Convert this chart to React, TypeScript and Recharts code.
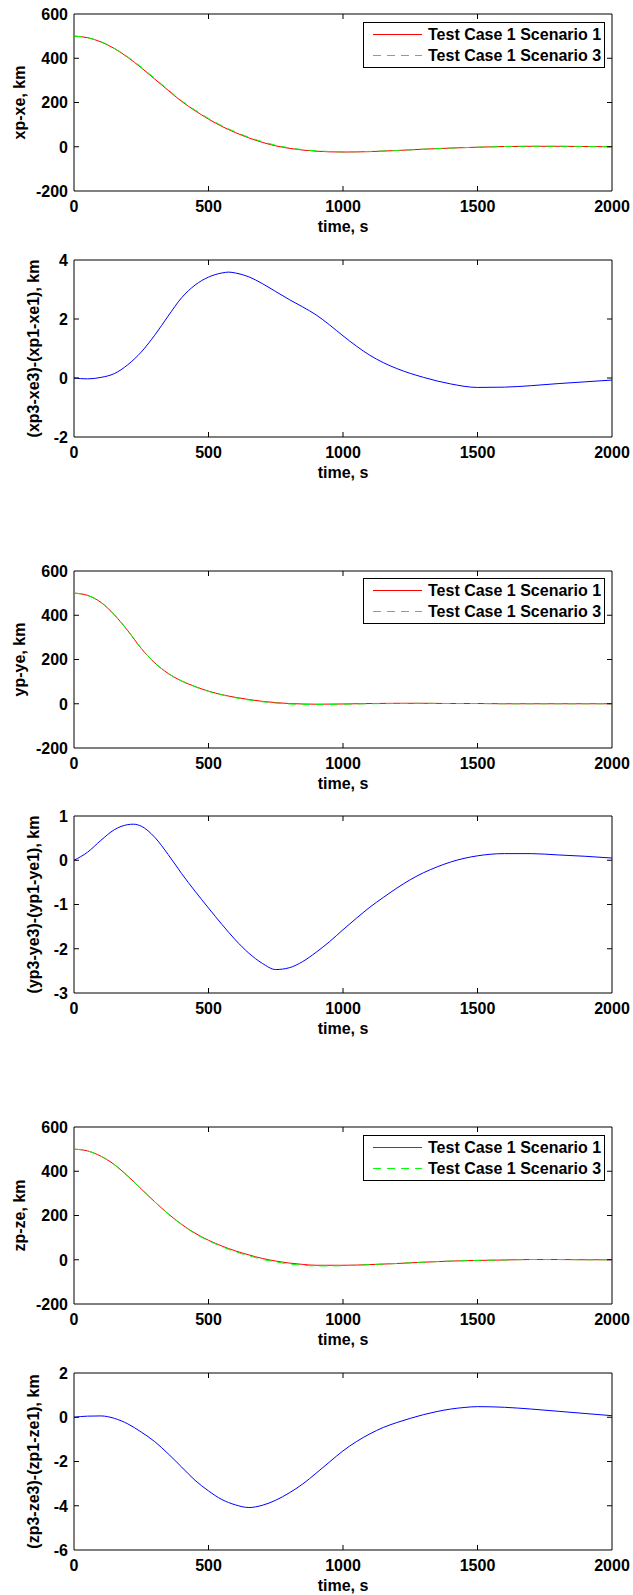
import React from 'react';
import { LineChart, Line, XAxis, YAxis, ReferenceArea } from 'recharts';

// ---------- data ----------
const timeTicks = [0, 500, 1000, 1500, 2000];

// Panel 1: xp-xe
const t1 = [0, 50, 100, 150, 200, 250, 300, 350, 400, 450, 500, 550, 600, 650, 700, 750, 800, 850, 900, 1000, 1100, 1200, 1300, 1400, 1500, 1600, 1700, 1800, 1900, 2000];
const xS1 = [500, 493, 474, 444, 404, 357, 306, 255, 205, 163, 125, 92, 64, 40, 20, 4, -7, -15, -20, -24, -22, -17, -11, -6, -2, 1, 2, 2, 1, 0];
const xS3 = [500, 493, 475, 445, 406, 360, 309, 258, 208, 166, 128, 95, 67, 43, 23, 7, -5, -13, -18, -23, -21, -17, -11, -6, -2, 1, 2, 2, 1, 0];
const xTicks = [-200, 0, 200, 400, 600];

// Panel 2: (xp3-xe3)-(xp1-xe1)
const t2 = [0, 50, 100, 150, 200, 250, 300, 350, 400, 450, 500, 550, 575, 600, 650, 700, 750, 800, 850, 900, 950, 1000, 1050, 1100, 1150, 1200, 1300, 1400, 1500, 1600, 1700, 1800, 1900, 2000];
const dX = [0, -0.03, 0.02, 0.15, 0.45, 0.88, 1.45, 2.1, 2.72, 3.15, 3.42, 3.56, 3.59, 3.56, 3.43, 3.2, 2.93, 2.66, 2.41, 2.14, 1.8, 1.43, 1.08, 0.77, 0.52, 0.32, 0.02, -0.2, -0.32, -0.31, -0.26, -0.19, -0.13, -0.07];
const dXTicks = [-2, 0, 2, 4];

// Panel 3: yp-ye
const t3 = [0, 50, 100, 150, 200, 250, 300, 350, 400, 450, 500, 550, 600, 650, 700, 750, 800, 850, 900, 1000, 1100, 1200, 1300, 1400, 1500, 1600, 1800, 2000];
const yS1 = [500, 490, 458, 402, 330, 250, 185, 137, 103, 78, 57, 41, 29, 19, 11, 5, 1, -1, -2, -1, 1, 2, 2, 1, 1, 0, 0, 0];
const yS3 = [500, 490, 459, 403, 331, 251, 185, 137, 103, 77, 56, 40, 27, 17, 9, 3, -1, -3, -4, -2, 0, 1, 2, 1, 1, 0, 0, 0];
const yTicks = [-200, 0, 200, 400, 600];

// Panel 4: (yp3-ye3)-(yp1-ye1)
const t4 = [0, 50, 100, 150, 200, 220, 250, 300, 350, 400, 450, 500, 550, 600, 650, 700, 750, 800, 850, 900, 950, 1000, 1050, 1100, 1150, 1200, 1250, 1300, 1350, 1400, 1500, 1600, 1700, 1800, 1900, 2000];
const dY = [0, 0.18, 0.45, 0.69, 0.805, 0.815, 0.77, 0.52, 0.13, -0.3, -0.7, -1.08, -1.45, -1.8, -2.1, -2.33, -2.47, -2.43, -2.29, -2.08, -1.84, -1.57, -1.31, -1.06, -0.84, -0.63, -0.44, -0.28, -0.15, -0.04, 0.1, 0.15, 0.15, 0.12, 0.09, 0.05];
const dYTicks = [-3, -2, -1, 0, 1];

// Panel 5: zp-ze
const t5 = [0, 50, 100, 150, 200, 250, 300, 350, 400, 450, 500, 550, 600, 650, 700, 750, 800, 850, 900, 1000, 1100, 1200, 1300, 1400, 1500, 1600, 1700, 1800, 1900, 2000];
const zS1 = [500, 492, 468, 430, 378, 320, 262, 208, 160, 120, 88, 62, 40, 22, 6, -6, -15, -21, -25, -25, -22, -17, -11, -6, -3, -1, 1, 1, 0, 0];
const zS3 = [500, 492, 468, 430, 378, 320, 262, 207, 159, 118, 86, 59, 36, 18, 2, -10, -19, -25, -28, -27, -22, -17, -11, -6, -3, -1, 1, 1, 0, 0];
const zTicks = [-200, 0, 200, 400, 600];

// Panel 6: (zp3-ze3)-(zp1-ze1)
const t6 = [0, 50, 100, 150, 200, 250, 300, 350, 400, 450, 500, 550, 600, 650, 700, 750, 800, 850, 900, 950, 1000, 1050, 1100, 1150, 1200, 1250, 1300, 1350, 1400, 1450, 1500, 1600, 1700, 1800, 1900, 2000];
const dZ = [0, 0.05, 0.06, -0.05, -0.3, -0.67, -1.1, -1.65, -2.25, -2.85, -3.33, -3.72, -3.96, -4.08, -3.98, -3.75, -3.42, -3.02, -2.53, -2.02, -1.52, -1.1, -0.75, -0.46, -0.24, -0.05, 0.12, 0.26, 0.37, 0.44, 0.48, 0.45, 0.37, 0.27, 0.17, 0.07];
const dZTicks = [-6, -4, -2, 0, 2];

const legendNames = ['Test Case 1 Scenario 1', 'Test Case 1 Scenario 3'];

// ---------- layout ----------
const FONT = "'Liberation Sans', Arial, Helvetica, sans-serif";
const W = 633;
const YW = 74;
const PW = 538;
const MR = W - YW - PW;
const MT = 10;
const PH = 177;
const XH = 50;
const CH = MT + PH + XH;

const RED = '#ff0000';
const GREEN = '#00ff00';
const BLUE = '#0000ff';

const textStyle = { fontFamily: FONT, fontWeight: 'bold' as const, fontSize: 16, fill: '#000' };

function XTick(props: any) {
  const { x, payload } = props;
  const v = payload.value;
  const inner = v > timeTicks[0] && v < timeTicks[timeTicks.length - 1];
  return (
    <g>
      {inner && <line x1={x} x2={x} y1={MT + PH} y2={MT + PH - 5} stroke="#000" strokeWidth={1} />}
      {inner && <line x1={x} x2={x} y1={MT} y2={MT + 5} stroke="#000" strokeWidth={1} />}
      <text x={x} y={MT + PH + 21} textAnchor="middle" {...textStyle}>{v}</text>
    </g>
  );
}

function makeYTick(ticks: number[]) {
  return function YTick(props: any) {
    const { y, payload } = props;
    const v = payload.value;
    const inner = v > ticks[0] && v < ticks[ticks.length - 1];
    return (
      <g>
        {inner && <line x1={YW} x2={YW + 5} y1={y} y2={y} stroke="#000" strokeWidth={1} />}
        {inner && <line x1={YW + PW - 5} x2={YW + PW} y1={y} y2={y} stroke="#000" strokeWidth={1} />}
        <text x={YW - 6} y={y} dy="0.36em" textAnchor="end" {...textStyle}>{v}</text>
      </g>
    );
  };
}

type PanelProps = {
  top: number;
  times: number[];
  a: number[];
  b?: number[];
  ticks: number[];
  ylabel: string;
  labelX: number;
};

function Panel({ top, times, a, b, ticks, ylabel, labelX }: PanelProps) {
  const data = times.map((t, i) => ({ t, a: a[i], b: b ? b[i] : undefined }));
  const dom: [number, number] = [ticks[0], ticks[ticks.length - 1]];
  const YTick = makeYTick(ticks);
  return (
    <div style={{ position: 'absolute', left: 0, top: top - MT, width: W, height: CH }}>
      <LineChart width={W} height={CH} data={data} margin={{ top: MT, right: MR, bottom: 0, left: 0 }}>
        <XAxis
          dataKey="t"
          type="number"
          domain={[timeTicks[0], timeTicks[timeTicks.length - 1]]}
          ticks={timeTicks}
          interval={0}
          height={XH}
          axisLine={false}
          tickLine={false}
          tick={XTick}
          label={() => (
            <text x={YW + PW / 2} y={MT + PH + 41} textAnchor="middle" {...textStyle}>time, s</text>
          )}
        />
        <YAxis
          type="number"
          domain={dom}
          ticks={ticks}
          interval={0}
          width={YW}
          axisLine={false}
          tickLine={false}
          allowDataOverflow
          tick={YTick}
          label={() => (
            <text
              x={labelX}
              y={MT + PH / 2}
              textAnchor="middle"
              dominantBaseline="central"
              transform={`rotate(-90 ${labelX} ${MT + PH / 2})`}
              {...textStyle}
            >
              {ylabel}
            </text>
          )}
        />
        {b ? (
          <Line type="monotone" dataKey="a" stroke={RED} strokeWidth={1} dot={false} isAnimationActive={false} />
        ) : (
          <Line type="monotone" dataKey="a" stroke={BLUE} strokeWidth={1} dot={false} isAnimationActive={false} />
        )}
        {b && (
          <Line type="monotone" dataKey="b" stroke={GREEN} strokeWidth={1} strokeDasharray="8 6" dot={false} isAnimationActive={false} />
        )}
        <ReferenceArea
          x1={timeTicks[0]}
          x2={timeTicks[timeTicks.length - 1]}
          y1={dom[0]}
          y2={dom[1]}
          fill="none"
          fillOpacity={0}
          stroke="#000"
          strokeWidth={1}
          ifOverflow="visible"
        />
      </LineChart>
    </div>
  );
}

function LegendBox({ top }: { top: number }) {
  const w = 242;
  const h = 46;
  return (
    <svg style={{ position: 'absolute', left: 363, top }} width={w} height={h}>
      <rect x={0.5} y={0.5} width={w - 1} height={h - 1} fill="#fff" stroke="#000" strokeWidth={1} />
      <line x1={10} x2={59} y1={12.5} y2={12.5} stroke={RED} strokeWidth={1} />
      <text x={65} y={12.5} dy="0.36em" {...textStyle}>{legendNames[0]}</text>
      <line x1={10} x2={59} y1={33.5} y2={33.5} stroke={GREEN} strokeWidth={1} strokeDasharray="8 6" />
      <text x={65} y={33.5} dy="0.36em" {...textStyle}>{legendNames[1]}</text>
    </svg>
  );
}

const panelTops = [14, 260, 571, 816, 1127, 1373];

export default function App() {
  return (
    <div style={{ position: 'absolute', left: 0, top: 0, width: W, height: 1595, background: '#fff' }}>
      <Panel top={panelTops[0]} times={t1} a={xS1} b={xS3} ticks={xTicks} ylabel="xp-xe, km" labelX={19} />
      <Panel top={panelTops[1]} times={t2} a={dX} ticks={dXTicks} ylabel="(xp3-xe3)-(xp1-xe1), km" labelX={33} />
      <Panel top={panelTops[2]} times={t3} a={yS1} b={yS3} ticks={yTicks} ylabel="yp-ye, km" labelX={19} />
      <Panel top={panelTops[3]} times={t4} a={dY} ticks={dYTicks} ylabel="(yp3-ye3)-(yp1-ye1), km" labelX={33} />
      <Panel top={panelTops[4]} times={t5} a={zS1} b={zS3} ticks={zTicks} ylabel="zp-ze, km" labelX={19} />
      <Panel top={panelTops[5]} times={t6} a={dZ} ticks={dZTicks} ylabel="(zp3-ze3)-(zp1-ze1), km" labelX={33} />
      <LegendBox top={panelTops[0] + 8} />
      <LegendBox top={panelTops[2] + 7} />
      <LegendBox top={panelTops[4] + 8} />
    </div>
  );
}
